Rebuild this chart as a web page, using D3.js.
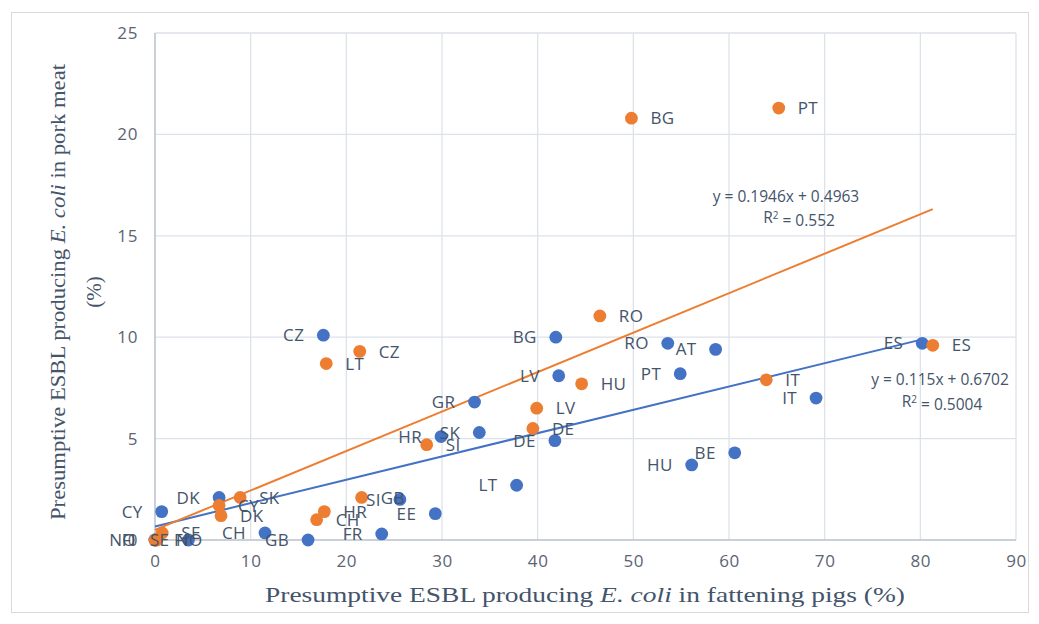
<!DOCTYPE html>
<html>
<head>
<meta charset="utf-8">
<script src="https://cdn.jsdelivr.net/npm/d3@7"></script>
<style>
  html, body { margin: 0; padding: 0; background: #ffffff; }
  svg { display: block; }
</style>
</head>
<body>
<svg id="chart" width="1039" height="624"></svg>
<script>
// ---------- DATA ----------
const xTicks = [0, 10, 20, 30, 40, 50, 60, 70, 80, 90];
const yTicks = [0, 5, 10, 15, 20, 25];

// Blue series
const blueLabels = ["NO", "FI", "SE", "CY", "DK", "CH", "GB", "FR", "SI", "EE", "HR", "SK", "GR", "CZ", "LT", "DE", "BG", "LV", "RO", "PT", "HU", "AT", "BE", "IT", "ES"];
const blueX      = [0,    0,    3.5,  0.7,  6.7,  11.5, 16.0, 23.7, 25.6, 29.3, 29.9, 33.9, 33.4, 17.6, 37.8, 41.8, 41.9, 42.2, 53.6, 54.9, 56.1, 58.6, 60.6, 69.1, 80.2];
const blueY      = [0,    0,    0,    1.4,  2.1,  0.35, 0,    0.3,  2.0,  1.3,  5.1,  5.3,  6.8,  10.1, 2.7,  4.9,  10.0, 8.1,  9.7,  8.2,  3.7,  9.4,  4.3,  7.0,  9.7];

// Orange series
const orangeLabels = ["FI", "NO", "SE", "CY", "DK", "SK", "CH", "HR", "LT", "GB", "CZ", "SI", "DE", "LV", "HU", "RO", "BG", "IT", "PT", "ES"];
const orangeX      = [0,    0.2,  0.75, 6.7,  6.9,  8.9,  16.9, 17.7, 17.9, 21.6, 21.4, 28.4, 39.5, 39.9, 44.6, 46.5, 49.8, 63.9, 65.2, 81.3];
const orangeY      = [0,    0,    0.35, 1.7,  1.2,  2.1,  1.0,  1.4,  8.7,  2.1,  9.3,  4.7,  5.5,  6.5,  7.7,  11.05, 20.8, 7.9, 21.3, 9.6];

// Linear trendlines (slope, intercept) and their labels
const trendSlope     = [0.115, 0.1946];
const trendIntercept = [0.6702, 0.4963];
const trendEq        = ["y = 0.115x + 0.6702", "y = 0.1946x + 0.4963"];
const trendR2        = ["0.5004", "0.552"];

// ---------- STYLE ----------
const BLUE = "#4472c4", ORANGE = "#ed7d31";
const TXT = "#44546a", TICK = "#5b6473", GRID = "#dde2ea", AXIS = "#b8c0cc";
const SANS = "'Open Sans', 'Noto Sans', sans-serif";
const SERIF = "'Liberation Serif', 'Times New Roman', serif";

const svg = d3.select("#chart");

// chart border
svg.append("rect").attr("x", 11.5).attr("y", 12.5).attr("width", 1017).attr("height", 600)
  .attr("fill", "#fff").attr("stroke", "#d9d9d9").attr("stroke-width", 1);

const x = d3.scaleLinear().domain([0, 90]).range([155, 1016]);
const y = d3.scaleLinear().domain([0, 25]).range([540, 33]);

// gridlines
const grid = svg.append("g");
grid.selectAll("line.v").data(xTicks.filter(d => d > 0)).join("line")
  .attr("x1", d => x(d)).attr("x2", d => x(d)).attr("y1", y(25)).attr("y2", y(0))
  .attr("stroke", GRID).attr("stroke-width", 1.3);
grid.selectAll("line.h").data(yTicks.filter(d => d > 0)).join("line")
  .attr("x1", x(0)).attr("x2", x(90)).attr("y1", d => y(d)).attr("y2", d => y(d))
  .attr("stroke", GRID).attr("stroke-width", 1.3);

// axes
const xAxis = svg.append("g").attr("transform", `translate(0,${y(0)})`)
  .call(d3.axisBottom(x).tickValues(xTicks).tickSize(0).tickPadding(15).tickFormat(d3.format("d")));
const yAxis = svg.append("g").attr("transform", `translate(${x(0)},0)`)
  .call(d3.axisLeft(y).tickValues(yTicks).tickSize(0).tickPadding(17).tickFormat(d3.format("d")));
[xAxis, yAxis].forEach(g => {
  g.select(".domain").attr("stroke", AXIS).attr("stroke-width", 1.5);
  g.selectAll("text").attr("fill", TICK).style("font-family", SANS).style("font-size", "17px")
    .style("letter-spacing", "0.6px");
});
yAxis.select(".domain").attr("d", `M0,${y(25)}V${y(0)}`);
xAxis.select(".domain").attr("d", `M${x(0)},0H${x(90)}`);

// trendlines
const trendRange = [[d3.min(blueX), d3.max(blueX)], [d3.min(orangeX), d3.max(orangeX)]];
[BLUE, ORANGE].forEach((c, i) => {
  const [a, b] = trendRange[i];
  svg.append("line")
    .attr("x1", x(a)).attr("y1", y(trendSlope[i] * a + trendIntercept[i]))
    .attr("x2", x(b)).attr("y2", y(trendSlope[i] * b + trendIntercept[i]))
    .attr("stroke", c).attr("stroke-width", 2);
});

// points
function drawSeries(xs, ys, color) {
  svg.append("g").selectAll("circle").data(xs.map((v, i) => [v, ys[i]])).join("circle")
    .attr("cx", d => x(d[0])).attr("cy", d => y(d[1])).attr("r", 6.4).attr("fill", color);
}
drawSeries(blueX, blueY, BLUE);
drawSeries(orangeX, orangeY, ORANGE);

// data labels (blue: left, orange: right)
function drawLabels(labels, xs, ys, side) {
  svg.append("g").selectAll("text").data(labels.map((l, i) => [l, xs[i], ys[i]])).join("text")
    .attr("x", d => x(d[1]) + (side === "left" ? -19 : 19))
    .attr("y", d => y(d[2]))
    .attr("dy", "0.36em")
    .attr("text-anchor", side === "left" ? "end" : "start")
    .attr("fill", TXT).style("font-family", SANS).style("font-size", "17px")
    .style("letter-spacing", "0.4px")
    .text(d => d[0]);
}
drawLabels(blueLabels, blueX, blueY, "left");
drawLabels(orangeLabels, orangeX, orangeY, "right");

// trend equations
const eqPos = [[940, 380, 942, 402], [786, 197, 799, 218]];
eqPos.forEach((p, i) => {
  svg.append("text").attr("x", p[0]).attr("y", p[1]).attr("dy", "0.35em").attr("text-anchor", "middle")
    .attr("fill", TXT).style("font-family", SANS).style("font-size", "15.5px").text(trendEq[i]);
  const t = svg.append("text").attr("x", p[2]).attr("y", p[3]).attr("dy", "0.35em").attr("text-anchor", "middle")
    .attr("fill", TXT).style("font-family", SANS).style("font-size", "15.5px");
  t.append("tspan").text("R");
  t.append("tspan").attr("dy", "-0.4em").style("font-size", "10px").text("2");
  t.append("tspan").attr("dy", "0.4em").text(" = " + trendR2[i]);
});

// axis titles
const xt = svg.append("text").attr("x", 585).attr("y", 602).attr("text-anchor", "middle")
  .attr("fill", TXT).style("font-family", SERIF).style("font-size", "21px")
  .attr("textLength", 640).attr("lengthAdjust", "spacingAndGlyphs");
xt.append("tspan").text("Presumptive ESBL producing ");
xt.append("tspan").style("font-style", "italic").text("E. coli");
xt.append("tspan").text(" in fattening pigs (%)");

const yt = svg.append("g").attr("transform", "translate(0,292) rotate(-90)");
const y1 = yt.append("text").attr("x", 0).attr("y", 65).attr("text-anchor", "middle")
  .attr("fill", TXT).style("font-family", SERIF).style("font-size", "21px")
  .attr("textLength", 456).attr("lengthAdjust", "spacingAndGlyphs");
y1.append("tspan").text("Presumptive ESBL producing ");
y1.append("tspan").style("font-style", "italic").text("E. coli");
y1.append("tspan").text(" in pork meat");
yt.append("text").attr("x", 0).attr("y", 101).attr("text-anchor", "middle")
  .attr("fill", TXT).style("font-family", SERIF).style("font-size", "21px").text("(%)");
</script>
</body>
</html>
